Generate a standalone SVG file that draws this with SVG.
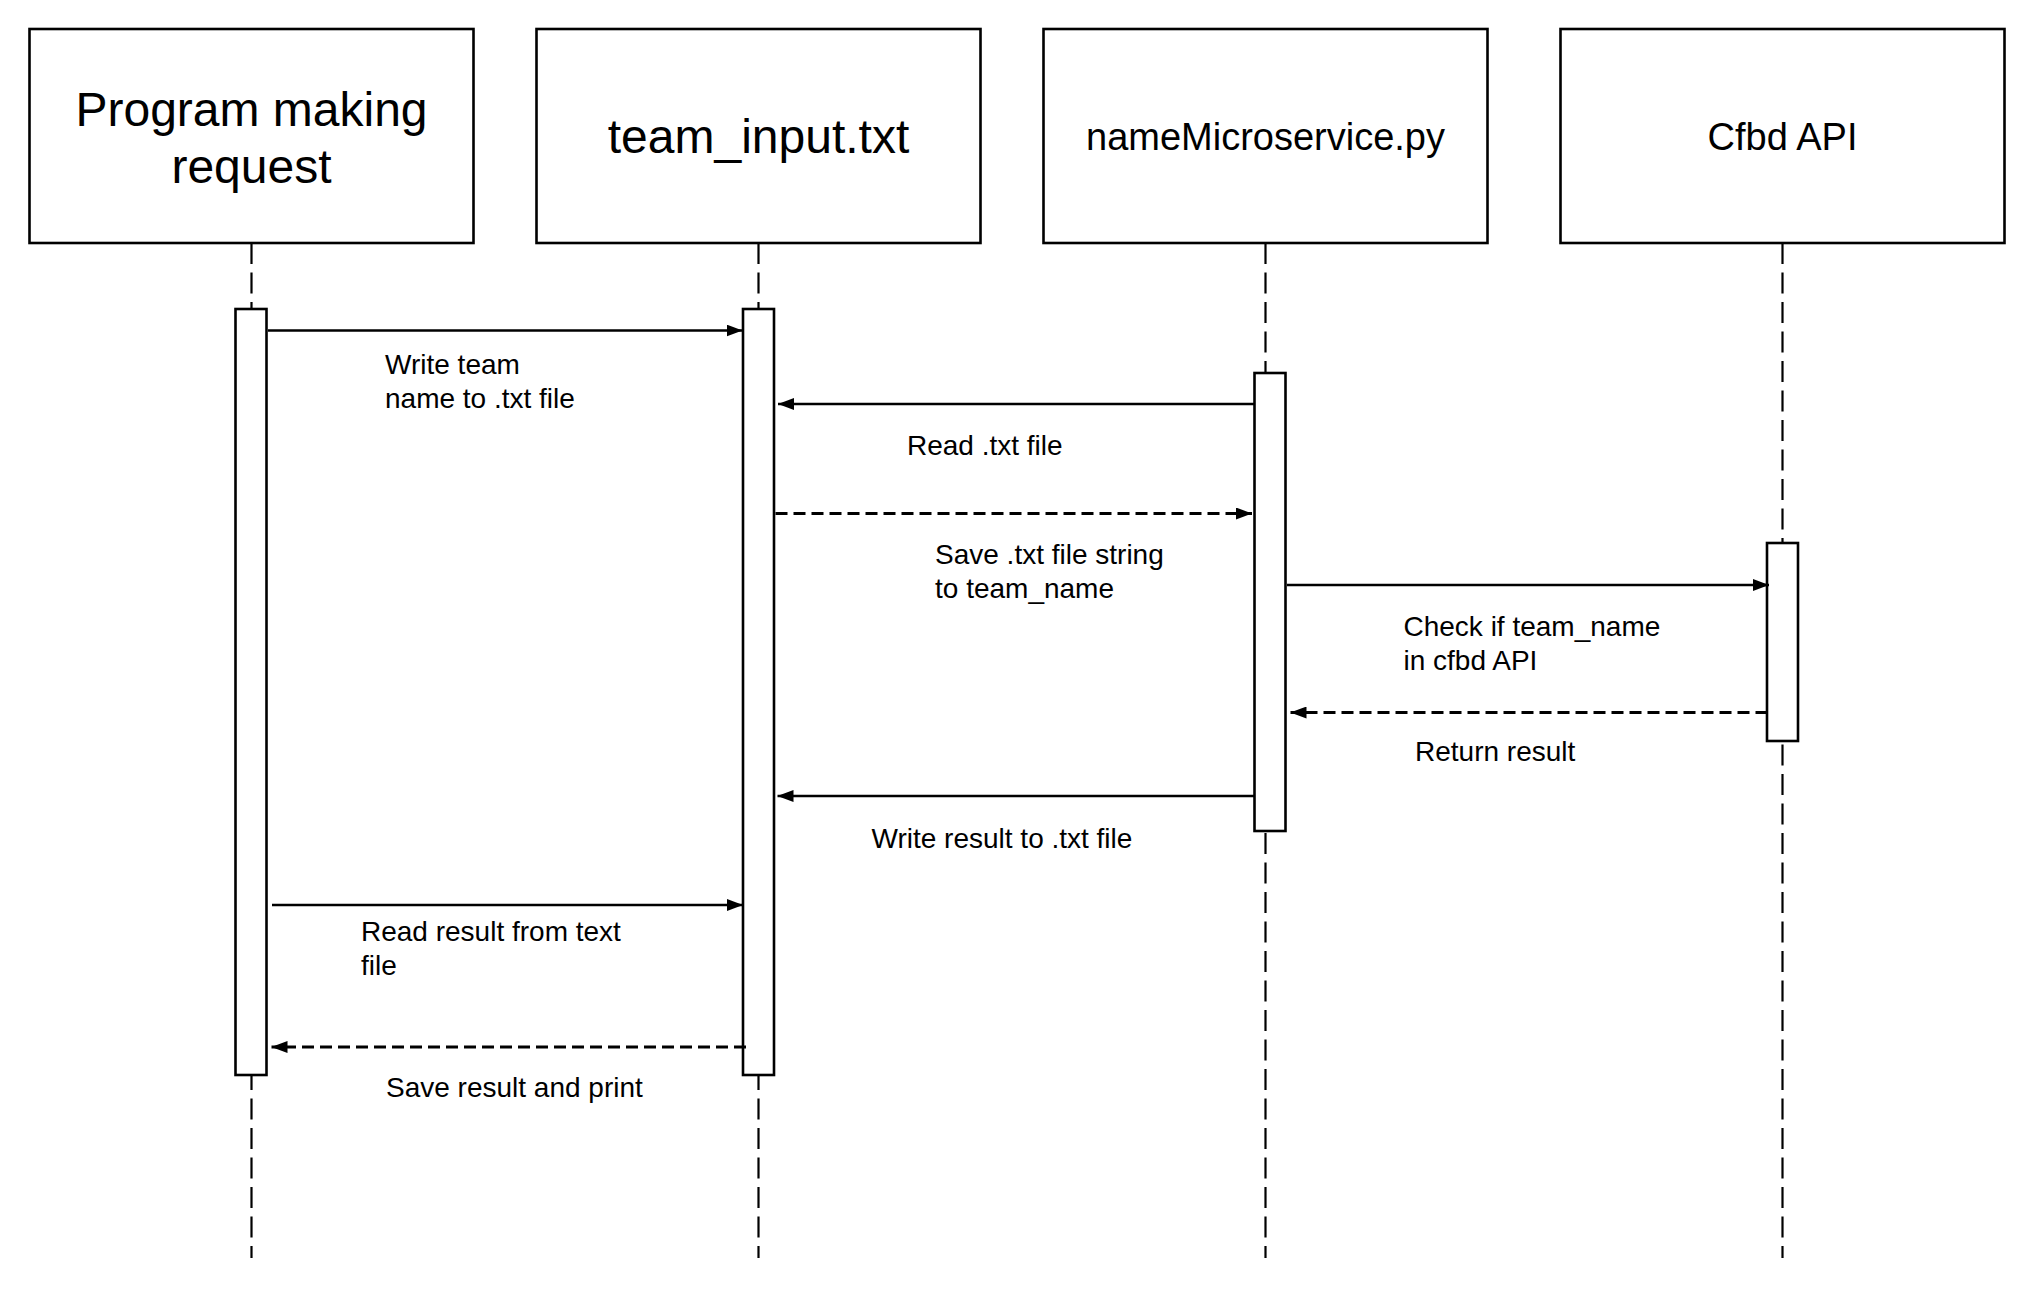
<svg xmlns="http://www.w3.org/2000/svg" width="2024" height="1298" viewBox="0 0 2024 1298">
  <defs>
    <style>
      .box { fill: #ffffff; stroke: #000000; stroke-width: 2.6; }
      .bar { fill: #ffffff; stroke: #000000; stroke-width: 2.6; }
      .life { fill: none; stroke: #000000; stroke-width: 2.2; stroke-dasharray: 21 8.5; }
      .msg { fill: none; stroke: #000000; stroke-width: 2.6; }
      .ret { fill: none; stroke: #000000; stroke-width: 2.8; stroke-dasharray: 12 6; }
      .title { font-family: "Liberation Sans", Arial, Helvetica, sans-serif; font-size: 48px; fill: #000000; text-anchor: middle; }
      .title2 { font-family: "Liberation Sans", Arial, Helvetica, sans-serif; font-size: 38px; fill: #000000; text-anchor: middle; }
      .label { font-family: "Liberation Sans", Arial, Helvetica, sans-serif; font-size: 28px; fill: #000000; }
    </style>
    <marker id="solidHead" markerUnits="userSpaceOnUse" markerWidth="16" markerHeight="12" refX="16" refY="6" orient="auto">
      <path d="M0,0 L16,6 L0,12 Z" fill="#000000"/>
    </marker>
    <marker id="dashHead" markerUnits="userSpaceOnUse" markerWidth="16" markerHeight="12" refX="16" refY="6" orient="auto">
      <path d="M0,0 L16,6 L0,12 Z" fill="#000000"/>
    </marker>
  </defs>
  <rect x="0" y="0" width="2024" height="1298" fill="#ffffff"/>

  <g id="lifelines">
    <line class="life" x1="251.5" y1="243" x2="251.5" y2="1258"/>
    <line class="life" x1="758.5" y1="243" x2="758.5" y2="1258"/>
    <line class="life" x1="1265.5" y1="243" x2="1265.5" y2="1258"/>
    <line class="life" x1="1782.5" y1="243" x2="1782.5" y2="1258"/>
  </g>

  <g id="node-program">
    <rect class="box" x="29.5" y="29" width="444" height="214"/>
    <text class="title" x="251.5" y="126">Program making</text>
    <text class="title" x="251.5" y="183">request</text>
  </g>
  <g id="node-team-input">
    <rect class="box" x="536.5" y="29" width="444" height="214"/>
    <text class="title" x="758.5" y="153">team_input.txt</text>
  </g>
  <g id="node-microservice">
    <rect class="box" x="1043.5" y="29" width="444" height="214"/>
    <text class="title2" x="1265.5" y="150">nameMicroservice.py</text>
  </g>
  <g id="node-cfbd">
    <rect class="box" x="1560.5" y="29" width="444" height="214"/>
    <text class="title2" x="1782.5" y="150">Cfbd API</text>
  </g>

  <g id="activation-bars">
    <rect class="bar" x="235.5" y="309" width="31" height="766"/>
    <rect class="bar" x="743" y="309" width="31" height="766"/>
    <rect class="bar" x="1254.5" y="373" width="31" height="458"/>
    <rect class="bar" x="1767" y="543" width="31" height="198"/>
  </g>

  <g id="connectors">
    <line class="msg" x1="268" y1="330.5" x2="742.5" y2="330.5" marker-end="url(#solidHead)"/>
    <line class="msg" x1="1254.5" y1="404" x2="778" y2="404" marker-end="url(#solidHead)"/>
    <line class="ret" x1="775.5" y1="513.5" x2="1252" y2="513.5" marker-end="url(#dashHead)"/>
    <line class="msg" x1="1287" y1="585" x2="1769" y2="585" marker-end="url(#solidHead)"/>
    <line class="ret" x1="1767.5" y1="712.5" x2="1290.5" y2="712.5" marker-end="url(#dashHead)"/>
    <line class="msg" x1="1254.5" y1="796" x2="777.5" y2="796" marker-end="url(#solidHead)"/>
    <line class="msg" x1="272" y1="905" x2="743" y2="905" marker-end="url(#solidHead)"/>
    <line class="ret" x1="746" y1="1047" x2="271.5" y2="1047" marker-end="url(#dashHead)"/>
  </g>

  <g id="labels">
    <text class="label" x="385" y="374">Write team</text>
    <text class="label" x="385" y="408">name to .txt file</text>
    <text class="label" x="907" y="455">Read .txt file</text>
    <text class="label" x="935" y="564">Save .txt file string</text>
    <text class="label" x="935" y="598">to team_name</text>
    <text class="label" x="1403.5" y="636">Check if team_name</text>
    <text class="label" x="1403.5" y="670">in cfbd API</text>
    <text class="label" x="1415" y="761">Return result</text>
    <text class="label" x="871.5" y="848">Write result to .txt file</text>
    <text class="label" x="361" y="941">Read result from text</text>
    <text class="label" x="361" y="975">file</text>
    <text class="label" x="386" y="1097">Save result and print</text>
  </g>
</svg>
